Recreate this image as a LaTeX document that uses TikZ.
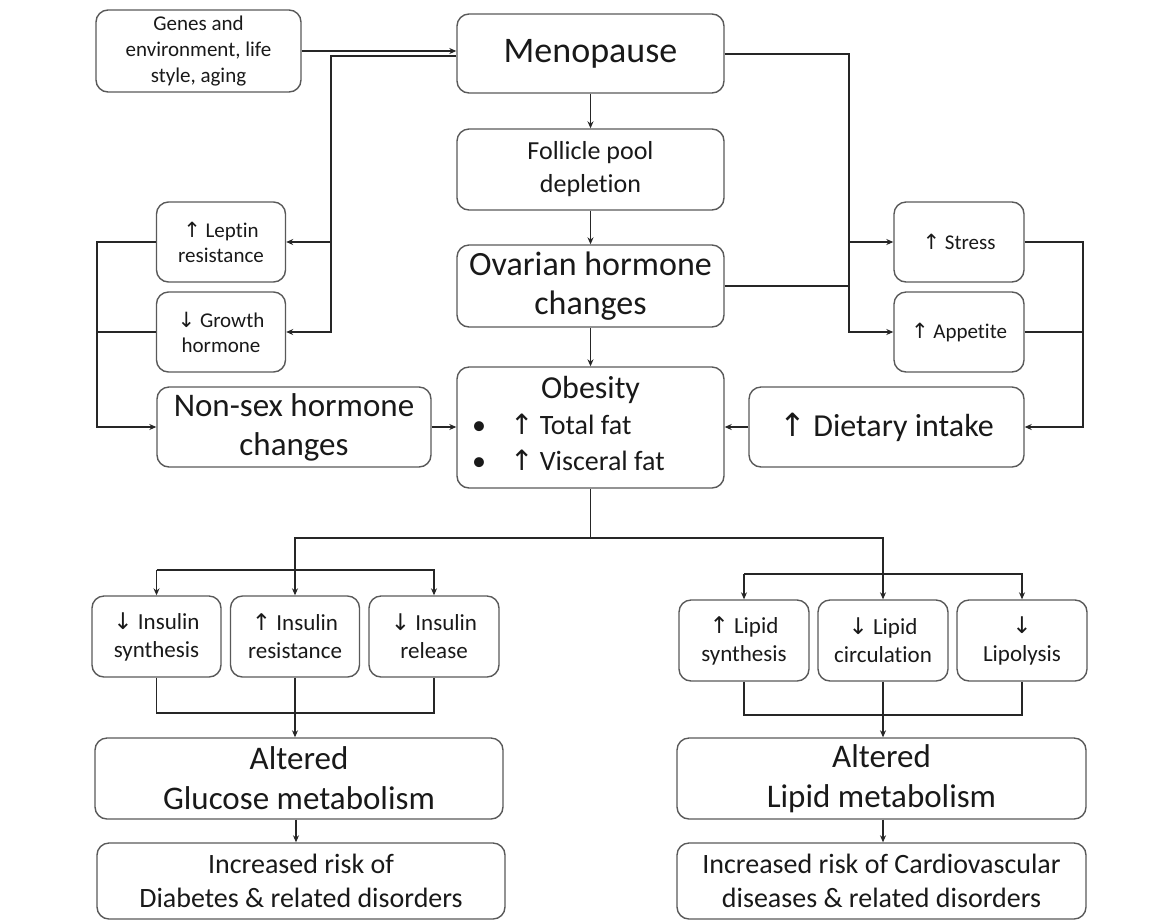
\documentclass[tikz,border=0pt]{standalone}
\usepackage{fontspec}
\setmainfont{Carlito}[Ligatures=NoCommon]
\newfontfamily\arrowfont{DejaVu Sans}
\newcommand{\incr}{{\arrowfont ↑}}
\newcommand{\decr}{{\arrowfont ↓}}
\usetikzlibrary{arrows.meta}
\definecolor{boxgray}{HTML}{595959}
\definecolor{linegray}{HTML}{262626}
\tikzset{
  box/.style={draw=boxgray, line width=1.4pt, rounded corners=12pt,
              align=center, inner sep=0pt, text=black!90},
  mid/.style={box, minimum width=267pt, minimum height=80pt},
  side/.style={box, minimum width=129pt, minimum height=80pt,
               font=\fontsize{21}{25}\selectfont},
  step3/.style={box, minimum width=129pt, minimum height=81pt,
                font=\fontsize{23}{28}\selectfont},
  lower/.style={box, minimum width=408pt},
  conn/.style={draw=linegray, line width=1.5pt},
  arr/.style={conn, -{Stealth[length=7pt,width=6pt]}},
}
\begin{document}
\begin{tikzpicture}[x=1pt,y=-1pt]
\useasboundingbox (0,0) rectangle (1166,922);

% top and middle column
\node[box, minimum width=205pt, minimum height=82pt,
      font=\fontsize{21}{26}\selectfont] (genes) at (198.5,51)
  {Genes and\\environment, life\\style, aging};
\node[mid, minimum height=79pt, font=\fontsize{36}{42}\selectfont]
  (meno) at (590.5,53.5) {Menopause};
\node[mid, minimum height=81pt, font=\fontsize{26}{33}\selectfont]
  (foll) at (590.5,169.5) {Follicle pool\\depletion};
\node[mid, minimum height=82pt, font=\fontsize{34}{39}\selectfont]
  (ovar) at (590.5,286) {Ovarian hormone\\changes};
\node[mid, minimum height=121pt, font=\fontsize{28}{36}\selectfont]
  (obes) at (590.5,427.5)
  {\begin{tabular}{@{}l@{}}
   \makebox[237pt]{\fontsize{32}{36}\selectfont Obesity}\\
   \makebox[38pt][l]{•}\incr\ Total fat\\
   \makebox[38pt][l]{•}\incr\ Visceral fat
   \end{tabular}};

% left side
\node[side] (lept) at (221,242) {\incr\ Leptin\\resistance};
\node[side] (grow) at (221,332) {\decr\ Growth\\hormone};
\node[box, minimum width=274pt, minimum height=80pt,
      font=\fontsize{33}{39}\selectfont] (nons) at (294,427)
  {Non-sex hormone\\changes};

% right side
\node[side, minimum width=130pt] (stre) at (959,242) {\incr\ Stress};
\node[side, minimum width=130pt] (appe) at (959,332) {\incr\ Appetite};
\node[box, minimum width=275pt, minimum height=80pt,
      font=\fontsize{32}{38}\selectfont] (diet) at (886.5,427)
  {\incr\ Dietary intake};

% glucose branch
\node[step3] (ins1) at (156.5,636.5) {\decr\ Insulin\\synthesis};
\node[step3] (ins2) at (295,636.5) {\incr\ Insulin\\resistance};
\node[step3, minimum width=130pt] (ins3) at (434,636.5) {\decr\ Insulin\\release};
\node[lower, minimum height=81pt, font=\fontsize{33}{40}\selectfont]
  (gluc) at (299,778.5) {Altered\\Glucose metabolism};
\node[lower, minimum height=76pt, font=\fontsize{28}{34}\selectfont]
  (diab) at (301,881) {Increased risk of\\Diabetes \& related disorders};

% lipid branch
\node[step3, minimum width=130pt] (lip1) at (744,640.5) {\incr\ Lipid\\synthesis};
\node[step3, minimum width=130pt] (lip2) at (883,640.5) {\decr\ Lipid\\circulation};
\node[step3, minimum width=130pt] (lip3) at (1022,640.5) {\decr\\Lipolysis};
\node[lower, minimum width=409pt, minimum height=81pt,
      font=\fontsize{33}{40}\selectfont]
  (lipm) at (881.5,778.5) {Altered\\Lipid metabolism};
\node[lower, minimum width=409pt, minimum height=76pt,
      font=\fontsize{28}{34}\selectfont]
  (cvd) at (881.5,881) {Increased risk of Cardiovascular\\diseases \& related disorders};

% bus points
\coordinate (lbus) at (331,56);
\coordinate (obus) at (97,242);
\coordinate (rbus) at (849,54);
\coordinate (dbus) at (1083,242);
\coordinate (split) at (590.5,538);
\coordinate (gtop) at (156.5,570);
\coordinate (gbot) at (296,713);
\coordinate (ltop) at (744,574);
\coordinate (lbot) at (883,715);

% connectors
\draw[arr] (genes.east) -- (genes.east -| meno.west);
\draw[arr] (meno.west |- lbus) -- (lbus) |- (grow.east);
\draw[arr] (lbus |- lept.east) -- (lept.east);
\draw[arr] (lept.west) -- (obus) |- (nons.west);
\draw[conn] (grow.west) -- (grow.west -| obus);
\draw[arr] (nons.east) -- (nons.east -| obes.west);
\draw[arr] (meno) -- (foll);
\draw[arr] (foll) -- (ovar);
\draw[arr] (ovar) -- (obes);
\draw[arr] (meno.east |- rbus) -- (rbus) |- (appe.west);
\draw[arr] (rbus |- stre.west) -- (stre.west);
\draw[conn] (ovar.east) -- (ovar.east -| rbus);
\draw[arr] (stre.east) -- (dbus) |- (diet.east);
\draw[conn] (appe.east) -- (appe.east -| dbus);
\draw[arr] (diet.west) -- (diet.west -| obes.east);
\draw[conn] (obes.south) -- (split);
\draw[arr] (split) -| (ins2.north);
\draw[arr] (split) -| (lip2.north);
\draw[arr] (gtop) -- (ins1.north);
\draw[arr] (gtop) -| (ins3.north);
\draw[conn] (ins1.south) |- (gbot) -| (ins3.south);
\draw[arr] (ins2.south) -- (ins2.south |- gluc.north);
\draw[arr] (ltop) -- (lip1.north);
\draw[arr] (ltop) -| (lip3.north);
\draw[conn] (lip1.south) |- (lbot) -| (lip3.south);
\draw[arr] (lip2.south) -- (lip2.south |- lipm.north);
\draw[arr] (gluc.south -| gbot) -- (diab.north -| gbot);
\draw[arr] (lipm.south -| lbot) -- (cvd.north -| lbot);
\end{tikzpicture}
\end{document}
